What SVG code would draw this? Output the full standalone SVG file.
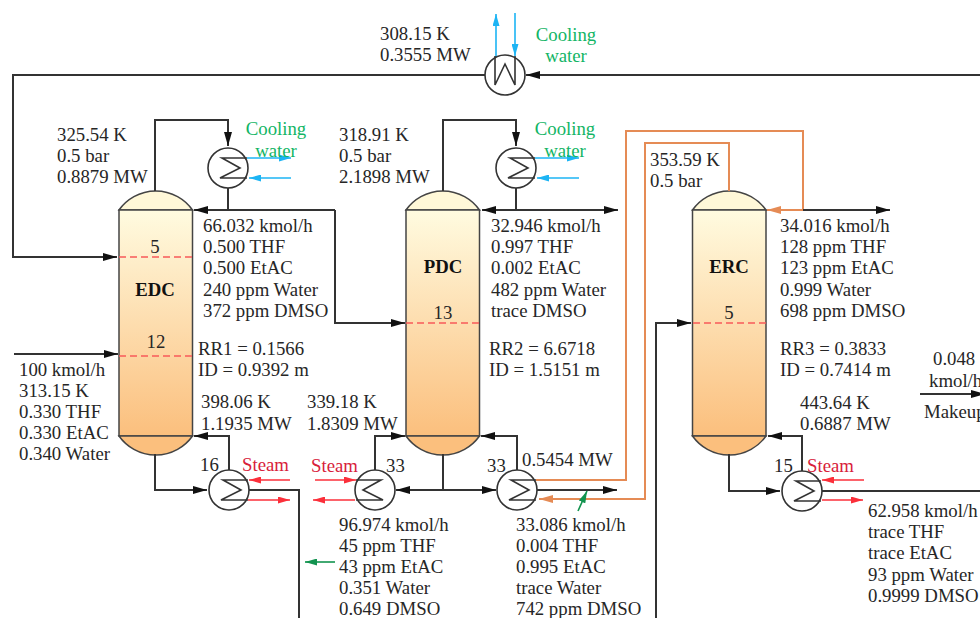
<svg xmlns="http://www.w3.org/2000/svg" width="980" height="618" viewBox="0 0 980 618">
<style>
text{font-family:"Liberation Serif","Times New Roman",serif;font-size:18.8px;fill:#262626}
.b{font-weight:bold;text-anchor:middle;fill:#111}
.m{text-anchor:middle}
.g{fill:#12b565}
.r{fill:#d8203a}
.p{fill:none;stroke:#333;stroke-width:2}
.blu{fill:none;stroke:#1cb4f4;stroke-width:1.6}
.red{fill:none;stroke:#fb2f3a;stroke-width:1.6}
.org{fill:none;stroke:#e58b55;stroke-width:2}
.grn{fill:none;stroke:#12934f;stroke-width:1.6}
.hx{fill:#fff;stroke:#333;stroke-width:1.6}
.c{fill:none;stroke:#333;stroke-width:1.6}
.sh{stroke:#444;stroke-width:1.5}
.d{stroke:#f85a5a;stroke-width:1.6;stroke-dasharray:7 4}
</style>
<defs>
<linearGradient id="body" x1="0" y1="0" x2="0" y2="1"><stop offset="0" stop-color="#fffbe0"/><stop offset="1" stop-color="#fbbf7d"/></linearGradient>
<marker id="ak" markerUnits="userSpaceOnUse" markerWidth="14" markerHeight="8" refX="14" refY="4" orient="auto"><path d="M0 0L14 4L0 8z" fill="#111"/></marker>
<marker id="ab" markerUnits="userSpaceOnUse" markerWidth="12" markerHeight="7" refX="12" refY="3.5" orient="auto"><path d="M0 0L12 3.5L0 7z" fill="#1cb4f4"/></marker>
<marker id="ar" markerUnits="userSpaceOnUse" markerWidth="12" markerHeight="7" refX="12" refY="3.5" orient="auto"><path d="M0 0L12 3.5L0 7z" fill="#fb2f3a"/></marker>
<marker id="ao" markerUnits="userSpaceOnUse" markerWidth="14" markerHeight="8" refX="14" refY="4" orient="auto"><path d="M0 0L14 4L0 8z" fill="#e58b55"/></marker>
<marker id="ag" markerUnits="userSpaceOnUse" markerWidth="12" markerHeight="7" refX="12" refY="3.5" orient="auto"><path d="M0 0L12 3.5L0 7z" fill="#12934f"/></marker>
<g id="col">
<path d="M0 19A45 45 0 0 1 73.5 19z" fill="#fff8d8" class="sh"/>
<rect x="0" y="19" width="73.5" height="226" fill="url(#body)" class="sh"/>
<path d="M0 245A45 45 0 0 0 73.5 245z" fill="#fbbf7d" class="sh"/>
</g>
<g id="hxh"><circle r="20" class="hx"/></g>
</defs>

<g id="EDC"><use href="#col" x="119" y="191"/><path class="d" d="M119 257H192M119 356H192"/><text class="m" x="155" y="253">5</text><text class="b" x="155" y="296">EDC</text><text class="m" x="156" y="348">12</text></g>
<g id="PDC"><use href="#col" x="406" y="191"/><path class="d" d="M406 323H480"/><text class="b" x="443" y="273">PDC</text><text class="m" x="443" y="319">13</text></g>
<g id="ERC"><use href="#col" x="692.5" y="191"/><path class="d" d="M693 323H766"/><text class="b" x="729" y="273">ERC</text><text class="m" x="729" y="319">5</text></g>

<g id="connectors">
<path class="p" d="M980 75H526" marker-end="url(#ak)"/>
<path class="p" d="M485 75H13V257H117" marker-end="url(#ak)"/>
<path class="p" d="M14 354H118" marker-end="url(#ak)"/>
<path class="p" d="M155 191V120H228V146" marker-end="url(#ak)"/>
<path class="p" d="M228 188V210"/>
<path class="p" d="M335 210H194" marker-end="url(#ak)"/>
<path class="p" d="M335 210V323H405" marker-end="url(#ak)"/>
<path class="p" d="M443 191V120H516V146" marker-end="url(#ak)"/>
<path class="p" d="M516 188V210"/>
<path class="p" d="M516 210H482" marker-end="url(#ak)"/>
<path class="p" d="M516 210H618" marker-end="url(#ak)"/>
<path class="p" d="M155 454V490H207" marker-end="url(#ak)"/>
<path class="p" d="M229 470V436H194" marker-end="url(#ak)"/>
<path class="p" d="M249 490H299V618"/>
<path class="p" d="M375 470V436H405" marker-end="url(#ak)"/>
<path class="p" d="M517 470V436H481" marker-end="url(#ak)"/>
<path class="p" d="M443 454V490"/>
<path class="p" d="M443 490H396" marker-end="url(#ak)"/>
<path class="p" d="M443 490H496" marker-end="url(#ak)"/>
<path class="p" d="M537 490H617" marker-end="url(#ak)"/>
<path class="org" d="M536 480H626V131H803V210"/>
<path class="org" d="M803 210H767" marker-end="url(#ao)"/>
<path class="p" d="M803 210H890" marker-end="url(#ak)"/>
<path class="org" d="M729 191V143H645V499H539" marker-end="url(#ao)"/>
<path class="p" d="M656 618V323H691" marker-end="url(#ak)"/>
<path class="p" d="M729 454V491H780" marker-end="url(#ak)"/>
<path class="p" d="M802 471V436H768" marker-end="url(#ak)"/>
<path class="p" d="M822 491H980"/>
<path class="p" d="M920 394H985" marker-end="url(#ak)"/>
<path class="blu" d="M496 57V14" marker-end="url(#ab)"/>
<path class="blu" d="M515 13V56" marker-end="url(#ab)"/>
<path class="blu" d="M247 158H291" marker-end="url(#ab)"/>
<path class="blu" d="M291 178H249" marker-end="url(#ab)"/>
<path class="blu" d="M535 158H579" marker-end="url(#ab)"/>
<path class="blu" d="M579 178H537" marker-end="url(#ab)"/>
<path class="red" d="M290 480H249" marker-end="url(#ar)"/>
<path class="red" d="M248 500H290" marker-end="url(#ar)"/>
<path class="red" d="M315 480H356" marker-end="url(#ar)"/>
<path class="red" d="M355 500H313" marker-end="url(#ar)"/>
<path class="red" d="M864 480H822" marker-end="url(#ar)"/>
<path class="red" d="M822 500H863" marker-end="url(#ar)"/>
<path class="grn" d="M335 562H305" marker-end="url(#ag)"/>
<path class="grn" d="M578 511L587 491" marker-end="url(#ag)"/>
</g>

<g id="HX-top"><use href="#hxh" x="505" y="75"/><path class="c" d="M495 56V85L505 64L515 85V56"/></g>
<g id="HX-EDC-cond"><use href="#hxh" x="228" y="168"/><path class="c" d="M247 158H222L240 168L220 178H247"/></g>
<g id="HX-PDC-cond"><use href="#hxh" x="516" y="168"/><path class="c" d="M535 158H510L528 168L508 178H535"/></g>
<g id="HX-EDC-reb"><use href="#hxh" x="229" y="490"/><path class="c" d="M248 480H223L241 490L221 500H248"/></g>
<g id="HX-PDC-reb1"><use href="#hxh" x="375" y="490"/><path class="c" d="M356 480H381L363 490L383 500H356"/></g>
<g id="HX-PDC-reb2"><use href="#hxh" x="517" y="490"/><path class="c" d="M536 480H511L529 490L509 500H536"/></g>
<g id="HX-ERC-reb"><use href="#hxh" x="802" y="491"/><path class="c" d="M821 481H796L814 491L794 501H821"/></g>

<g id="labels">
<text x="380" y="40">308.15 K</text><text x="380" y="61">0.3555 MW</text>
<text class="m g" x="566" y="41">Cooling</text><text class="m g" x="566" y="62">water</text>
<text x="57" y="141">325.54 K</text><text x="57" y="162">0.5 bar</text><text x="57" y="183">0.8879 MW</text>
<text class="m g" x="276" y="135">Cooling</text><text class="m g" x="276" y="157">water</text>
<text x="339" y="141">318.91 K</text><text x="339" y="162">0.5 bar</text><text x="339" y="183">2.1898 MW</text>
<text class="m g" x="565" y="135">Cooling</text><text class="m g" x="565" y="157">water</text>
<text x="650" y="166">353.59 K</text><text x="650" y="187">0.5 bar</text>
<text x="203" y="232">66.032 kmol/h</text><text x="203" y="253">0.500 THF</text><text x="203" y="274">0.500 EtAC</text><text x="203" y="296">240 ppm Water</text><text x="203" y="317">372 ppm DMSO</text>
<text x="491" y="232">32.946 kmol/h</text><text x="491" y="253">0.997 THF</text><text x="491" y="274">0.002 EtAC</text><text x="491" y="296">482 ppm Water</text><text x="491" y="317">trace DMSO</text>
<text x="780" y="232">34.016 kmol/h</text><text x="780" y="253">128 ppm THF</text><text x="780" y="274">123 ppm EtAC</text><text x="780" y="296">0.999 Water</text><text x="780" y="317">698 ppm DMSO</text>
<text x="198" y="355">RR1 = 0.1566</text><text x="198" y="376">ID = 0.9392 m</text>
<text x="489" y="355">RR2 = 6.6718</text><text x="489" y="376">ID = 1.5151 m</text>
<text x="780" y="355">RR3 = 0.3833</text><text x="780" y="376">ID = 0.7414 m</text>
<text x="19" y="376">100 kmol/h</text><text x="19" y="397">313.15 K</text><text x="19" y="418">0.330 THF</text><text x="19" y="439">0.330 EtAC</text><text x="19" y="460">0.340 Water</text>
<text x="201" y="408">398.06 K</text><text x="201" y="430">1.1935 MW</text>
<text x="307" y="408">339.18 K</text><text x="307" y="430">1.8309 MW</text>
<text x="800" y="409">443.64 K</text><text x="800" y="430">0.6887 MW</text>
<text x="200" y="471">16</text><text class="r" x="242" y="471">Steam</text>
<text class="r" x="311" y="472">Steam</text><text x="386" y="472">33</text>
<text x="487" y="472">33</text><text x="522" y="466">0.5454 MW</text>
<text x="774" y="472">15</text><text class="r" x="807" y="472">Steam</text>
<text x="339" y="531">96.974 kmol/h</text><text x="339" y="552">45 ppm THF</text><text x="339" y="573">43 ppm EtAC</text><text x="339" y="594">0.351 Water</text><text x="339" y="615">0.649 DMSO</text>
<text x="516" y="531">33.086 kmol/h</text><text x="516" y="552">0.004 THF</text><text x="516" y="573">0.995 EtAC</text><text x="516" y="594">trace Water</text><text x="516" y="615">742 ppm DMSO</text>
<text x="868" y="517">62.958 kmol/h</text><text x="868" y="538">trace THF</text><text x="868" y="559">trace EtAC</text><text x="868" y="581">93 ppm Water</text><text x="868" y="602">0.9999 DMSO</text>
<text x="933" y="365">0.048</text><text x="929" y="387">kmol/h</text><text x="924" y="418">Makeup</text>
</g>
</svg>
